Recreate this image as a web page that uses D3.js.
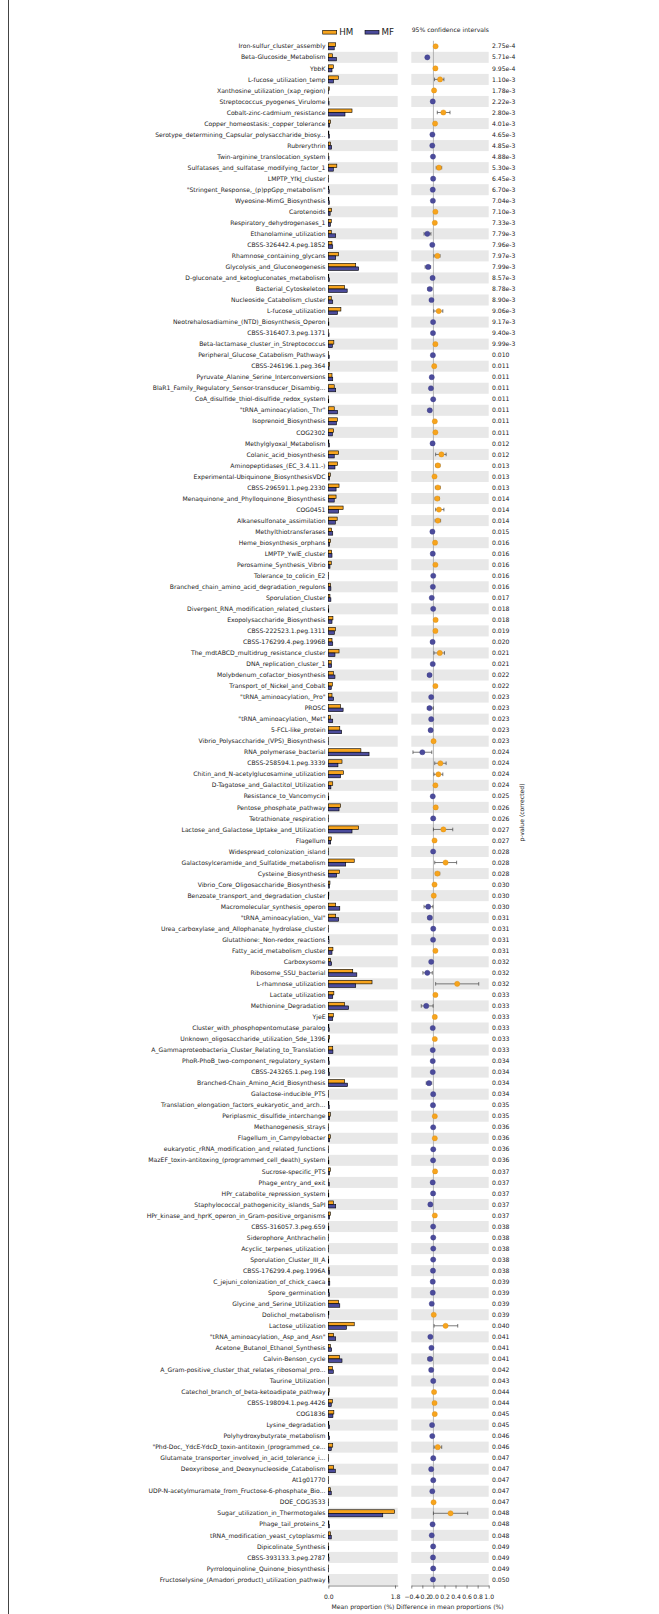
<!DOCTYPE html>
<html><head><meta charset="utf-8">
<script src="https://cdn.jsdelivr.net/npm/d3@7"></script>
<style>body{margin:0;background:#fff}svg{display:block}text{font-family:"DejaVu Sans",sans-serif;fill:#222}</style>
</head><body>
<script>
const categories = ["Iron-sulfur_cluster_assembly","Beta-Glucoside_Metabolism","YbbK","L-fucose_utilization_temp","Xanthosine_utilization_(xap_region)","Streptococcus_pyogenes_Virulome","Cobalt-zinc-cadmium_resistance","Copper_homeostasis:_copper_tolerance","Serotype_determining_Capsular_polysaccharide_biosy...","Rubrerythrin",
"Twin-arginine_translocation_system","Sulfatases_and_sulfatase_modifying_factor_1","LMPTP_YfkJ_cluster","\"Stringent_Response,_(p)ppGpp_metabolism\"","Wyeosine-MimG_Biosynthesis","Carotenoids","Respiratory_dehydrogenases_1","Ethanolamine_utilization","CBSS-326442.4.peg.1852","Rhamnose_containing_glycans",
"Glycolysis_and_Gluconeogenesis","D-gluconate_and_ketogluconates_metabolism","Bacterial_Cytoskeleton","Nucleoside_Catabolism_cluster","L-fucose_utilization","Neotrehalosadiamine_(NTD)_Biosynthesis_Operon","CBSS-316407.3.peg.1371","Beta-lactamase_cluster_in_Streptococcus","Peripheral_Glucose_Catabolism_Pathways","CBSS-246196.1.peg.364",
"Pyruvate_Alanine_Serine_Interconversions","BlaR1_Family_Regulatory_Sensor-transducer_Disambig...","CoA_disulfide_thiol-disulfide_redox_system","\"tRNA_aminoacylation,_Thr\"","Isoprenoid_Biosynthesis","COG2302","Methylglyoxal_Metabolism","Colanic_acid_biosynthesis","Aminopeptidases_(EC_3.4.11.-)","Experimental-Ubiquinone_BiosynthesisVDC",
"CBSS-296591.1.peg.2330","Menaquinone_and_Phylloquinone_Biosynthesis","COG0451","Alkanesulfonate_assimilation","Methylthiotransferases","Heme_biosynthesis_orphans","LMPTP_YwlE_cluster","Perosamine_Synthesis_Vibrio","Tolerance_to_colicin_E2","Branched_chain_amino_acid_degradation_regulons",
"Sporulation_Cluster","Divergent_RNA_modification_related_clusters","Exopolysaccharide_Biosynthesis","CBSS-222523.1.peg.1311","CBSS-176299.4.peg.1996B","The_mdtABCD_multidrug_resistance_cluster","DNA_replication_cluster_1","Molybdenum_cofactor_biosynthesis","Transport_of_Nickel_and_Cobalt","\"tRNA_aminoacylation,_Pro\"",
"PROSC","\"tRNA_aminoacylation,_Met\"","5-FCL-like_protein","Vibrio_Polysaccharide_(VPS)_Biosynthesis","RNA_polymerase_bacterial","CBSS-258594.1.peg.3339","Chitin_and_N-acetylglucosamine_utilization","D-Tagatose_and_Galactitol_Utilization","Resistance_to_Vancomycin","Pentose_phosphate_pathway",
"Tetrathionate_respiration","Lactose_and_Galactose_Uptake_and_Utilization","Flagellum","Widespread_colonization_island","Galactosylceramide_and_Sulfatide_metabolism","Cysteine_Biosynthesis","Vibrio_Core_Oligosaccharide_Biosynthesis","Benzoate_transport_and_degradation_cluster","Macromolecular_synthesis_operon","\"tRNA_aminoacylation,_Val\"",
"Urea_carboxylase_and_Allophanate_hydrolase_cluster","Glutathione:_Non-redox_reactions","Fatty_acid_metabolism_cluster","Carboxysome","Ribosome_SSU_bacterial","L-rhamnose_utilization","Lactate_utilization","Methionine_Degradation","YjeE","Cluster_with_phosphopentomutase_paralog",
"Unknown_oligosaccharide_utilization_Sde_1396","A_Gammaproteobacteria_Cluster_Relating_to_Translation","PhoR-PhoB_two-component_regulatory_system","CBSS-243265.1.peg.198","Branched-Chain_Amino_Acid_Biosynthesis","Galactose-inducible_PTS","Translation_elongation_factors_eukaryotic_and_arch...","Periplasmic_disulfide_interchange","Methanogenesis_strays","Flagellum_in_Campylobacter",
"eukaryotic_rRNA_modification_and_related_functions","MazEF_toxin-antitoxing_(programmed_cell_death)_system","Sucrose-specific_PTS","Phage_entry_and_exit","HPr_catabolite_repression_system","Staphylococcal_pathogenicity_islands_SaPI","HPr_kinase_and_hprK_operon_in_Gram-positive_organisms","CBSS-316057.3.peg.659","Siderophore_Anthrachelin","Acyclic_terpenes_utilization",
"Sporulation_Cluster_III_A","CBSS-176299.4.peg.1996A","C_jejuni_colonization_of_chick_caeca","Spore_germination","Glycine_and_Serine_Utilization","Dolichol_metabolism","Lactose_utilization","\"tRNA_aminoacylation,_Asp_and_Asn\"","Acetone_Butanol_Ethanol_Synthesis","Calvin-Benson_cycle",
"A_Gram-positive_cluster_that_relates_ribosomal_pro...","Taurine_Utilization","Catechol_branch_of_beta-ketoadipate_pathway","CBSS-198094.1.peg.4426","COG1836","Lysine_degradation","Polyhydroxybutyrate_metabolism","\"Phd-Doc,_YdcE-YdcD_toxin-antitoxin_(programmed_ce...","Glutamate_transporter_involved_in_acid_tolerance_i...","Deoxyribose_and_Deoxynucleoside_Catabolism",
"At1g01770","UDP-N-acetylmuramate_from_Fructose-6-phosphate_Bio...","DOE_COG3533","Sugar_utilization_in_Thermotogales","Phage_tail_proteins_2","tRNA_modification_yeast_cytoplasmic","Dipicolinate_Synthesis","CBSS-393133.3.peg.2787","Pyrroloquinoline_Quinone_biosynthesis","Fructoselysine_(Amadori_product)_utilization_pathway"];

const hmValues = [0.20,0.11,0.135,0.27,0.025,0.005,0.64,0.06,0.015,0.06,
0.008,0.23,0.005,0.012,0.015,0.09,0.08,0.08,0.10,0.28,
0.74,0.012,0.44,0.08,0.34,0.008,0.008,0.15,0.01,0.035,
0.10,0.16,0.008,0.16,0.245,0.145,0.015,0.28,0.25,0.055,
0.29,0.21,0.40,0.24,0.09,0.06,0.09,0.08,0.005,0.06,
0.045,0.007,0.125,0.19,0.10,0.29,0.08,0.135,0.11,0.10,
0.33,0.06,0.31,0.006,0.88,0.37,0.41,0.12,0.005,0.33,
0.005,0.82,0.08,0.005,0.70,0.30,0.045,0.015,0.20,0.20,
0.005,0.015,0.125,0.055,0.66,1.18,0.15,0.44,0.135,0.015,
0.035,0.12,0.015,0.015,0.44,0.005,0.015,0.055,0.005,0.055,
0.004,0.008,0.055,0.008,0.008,0.135,0.055,0.008,0.005,0.006,
0.008,0.02,0.025,0.015,0.28,0.015,0.70,0.145,0.055,0.30,
0.11,0.005,0.025,0.11,0.15,0.012,0.012,0.12,0.005,0.145,
0.004,0.055,0.006,1.79,0.015,0.06,0.008,0.012,0.006,0.012];

const mfValues = [0.16,0.22,0.10,0.14,0.01,0.02,0.45,0.035,0.03,0.09,
0.018,0.135,0.01,0.025,0.027,0.05,0.06,0.20,0.12,0.20,
0.82,0.028,0.51,0.12,0.25,0.015,0.02,0.11,0.025,0.02,
0.12,0.20,0.012,0.25,0.22,0.11,0.03,0.16,0.18,0.035,
0.21,0.16,0.28,0.19,0.12,0.035,0.10,0.045,0.008,0.07,
0.07,0.012,0.10,0.165,0.12,0.18,0.09,0.18,0.08,0.145,
0.40,0.12,0.36,0.004,1.10,0.26,0.33,0.07,0.012,0.29,
0.007,0.64,0.065,0.01,0.47,0.225,0.03,0.012,0.31,0.28,
0.008,0.02,0.10,0.09,0.77,0.74,0.12,0.55,0.12,0.025,
0.015,0.125,0.025,0.03,0.52,0.008,0.025,0.035,0.009,0.035,
0.007,0.015,0.035,0.025,0.014,0.20,0.035,0.014,0.007,0.008,
0.012,0.03,0.04,0.03,0.31,0.01,0.49,0.20,0.09,0.37,
0.135,0.007,0.015,0.08,0.125,0.035,0.035,0.08,0.008,0.19,
0.007,0.08,0.003,1.47,0.03,0.08,0.012,0.018,0.008,0.018];

const diffValues = [0.04,-0.11,0.036,0.12,0.012,-0.012,0.18,0.03,-0.018,-0.02,
-0.008,0.10,-0.005,-0.012,-0.01,0.036,0.025,-0.11,-0.02,0.072,
-0.095,-0.015,-0.065,-0.035,0.096,-0.006,-0.008,0.036,-0.01,0.015,
-0.03,-0.045,-0.004,-0.065,0.025,0.036,-0.015,0.145,0.08,0.02,
0.08,0.07,0.10,0.08,-0.018,0.03,-0.012,0.036,-0.003,-0.01,
-0.03,-0.004,0.04,0.036,-0.015,0.115,-0.012,-0.07,0.036,-0.04,
-0.07,-0.04,-0.05,0.003,-0.20,0.126,0.09,0.036,-0.012,0.042,
-0.004,0.18,0.02,-0.005,0.22,0.072,0.02,0.006,-0.095,-0.065,
-0.003,-0.006,0.036,-0.04,-0.11,0.43,0.036,-0.13,0.025,-0.012,
0.025,-0.012,-0.012,-0.012,-0.08,-0.004,-0.008,0.025,-0.004,0.025,
-0.003,-0.006,0.03,-0.013,-0.006,-0.055,0.025,-0.005,-0.003,-0.003,
-0.004,-0.008,-0.012,-0.012,-0.03,0.006,0.22,-0.055,-0.036,-0.06,
-0.04,-0.003,0.012,0.02,0.024,-0.024,-0.02,0.078,-0.003,-0.04,
-0.003,-0.02,0.003,0.31,-0.015,-0.03,-0.005,-0.008,-0.004,-0.008];

const ciLow = [0.025,-0.13,0.025,0.02,0.005,-0.02,0.07,0.015,-0.028,-0.035,
-0.014,0.05,-0.009,-0.02,-0.017,0.02,0.012,-0.17,-0.033,0.01,
-0.15,-0.024,-0.10,-0.05,0.006,-0.01,-0.014,0.02,-0.017,0.006,
-0.045,-0.065,-0.007,-0.095,0.01,0.02,-0.024,0.04,0.04,0.008,
0.035,0.03,0.04,0.03,-0.03,0.015,-0.022,0.02,-0.006,-0.02,
-0.045,-0.007,0.02,0.015,-0.027,0.01,-0.022,-0.10,0.02,-0.055,
-0.11,-0.055,-0.07,0.001,-0.37,0.024,0.01,0.02,-0.02,0.02,
-0.007,0.0,0.008,-0.009,0.024,0.035,0.008,0.002,-0.17,-0.10,
-0.006,-0.01,0.02,-0.055,-0.19,0.04,0.02,-0.22,0.01,-0.02,
0.012,-0.022,-0.02,-0.02,-0.13,-0.007,-0.014,0.012,-0.007,0.01,
-0.006,-0.01,0.015,-0.021,-0.01,-0.075,0.012,-0.009,-0.006,-0.006,
-0.007,-0.014,-0.02,-0.02,-0.045,0.002,0.012,-0.075,-0.05,-0.10,
-0.055,-0.006,0.005,0.008,0.01,-0.035,-0.03,0.012,-0.006,-0.055,
-0.006,-0.032,0.001,0.0,-0.024,-0.045,-0.009,-0.014,-0.007,-0.014];

const ciHigh = [0.055,-0.09,0.047,0.19,0.02,-0.005,0.30,0.045,-0.008,-0.005,
-0.002,0.15,-0.001,-0.004,-0.003,0.052,0.038,-0.045,-0.007,0.12,
-0.05,-0.006,-0.03,-0.02,0.17,-0.002,-0.002,0.052,-0.003,0.024,
-0.015,-0.025,-0.001,-0.035,0.04,0.052,-0.006,0.23,0.12,0.032,
0.125,0.11,0.19,0.13,-0.006,0.045,-0.002,0.052,0.0,0.0,
-0.015,-0.001,0.06,0.055,-0.003,0.20,-0.002,-0.04,0.052,-0.025,
-0.002,-0.025,-0.03,0.005,-0.03,0.23,0.17,0.052,-0.004,0.065,
-0.001,0.35,0.032,-0.001,0.42,0.115,0.032,0.01,-0.01,-0.03,
0.0,-0.002,0.052,-0.025,-0.02,0.82,0.052,-0.006,0.04,-0.004,
0.038,-0.002,-0.004,-0.004,-0.03,-0.001,-0.002,0.038,-0.001,0.04,
0.0,-0.002,0.045,-0.005,-0.002,-0.035,0.038,-0.001,0.0,0.0,
-0.001,-0.002,-0.004,-0.004,-0.015,0.01,0.44,-0.035,-0.022,-0.02,
-0.025,0.0,0.019,0.032,0.038,-0.013,-0.01,0.15,0.0,-0.025,
0.0,-0.008,0.005,0.62,-0.006,-0.015,-0.001,-0.002,-0.001,-0.002];

const pValues = ["2.75e-4","5.71e-4","9.95e-4","1.10e-3","1.78e-3","2.22e-3","2.80e-3","4.01e-3","4.65e-3","4.85e-3",
"4.88e-3","5.30e-3","6.45e-3","6.70e-3","7.04e-3","7.10e-3","7.33e-3","7.79e-3","7.96e-3","7.97e-3",
"7.99e-3","8.57e-3","8.78e-3","8.90e-3","9.06e-3","9.17e-3","9.40e-3","9.99e-3","0.010","0.011",
"0.011","0.011","0.011","0.011","0.011","0.011","0.012","0.012","0.013","0.013",
"0.013","0.014","0.014","0.014","0.015","0.016","0.016","0.016","0.016","0.016",
"0.017","0.018","0.018","0.019","0.020","0.021","0.021","0.022","0.022","0.023",
"0.023","0.023","0.023","0.023","0.024","0.024","0.024","0.024","0.025","0.026",
"0.026","0.027","0.027","0.028","0.028","0.028","0.030","0.030","0.030","0.031",
"0.031","0.031","0.031","0.032","0.032","0.032","0.033","0.033","0.033","0.033",
"0.033","0.033","0.034","0.034","0.034","0.034","0.035","0.035","0.036","0.036",
"0.036","0.036","0.037","0.037","0.037","0.037","0.037","0.038","0.038","0.038",
"0.038","0.038","0.039","0.039","0.039","0.039","0.040","0.041","0.041","0.041",
"0.042","0.043","0.044","0.044","0.045","0.045","0.046","0.046","0.047","0.047",
"0.047","0.047","0.047","0.048","0.048","0.048","0.049","0.049","0.049","0.050"];

const groups = ["HM","MF"];
const leftTicks = [0, 1.8];
const rightTicks = [-0.4,-0.2,0.0,0.2,0.4,0.6,0.8,1.0];

const W = 659, H = 1614;
const ORANGE = "#F7A41D", NAVY = "#4B4B9B";
const FS = 6.1;

const svg = d3.select("body").append("svg").attr("width", W).attr("height", H);

// page frame line on the left
svg.append("line").attr("x1", 8.5).attr("x2", 8.5).attr("y1", 0).attr("y2", H).attr("stroke", "#444").attr("stroke-width", 1);

const data = categories.map((c,i)=>({c, hm:hmValues[i], mf:mfValues[i], d:diffValues[i], lo:ciLow[i], hi:ciHigh[i], p:pValues[i], i}));

const y = d3.scaleBand().domain(categories).range([40.8, 1585.0]).padding(0);
const xL = d3.scaleLinear().domain([0, 1.873]).range([328.3, 397.7]);
const xR = d3.scaleLinear().domain([-0.4, 1.0]).range([411.3, 488.7]);
const bw = y.bandwidth();

// shaded bands
const bands = svg.append("g");
data.filter(d=>d.i%2===1).forEach(d=>{
  bands.append("rect").attr("x", xL.range()[0]).attr("y", y(d.c)).attr("width", xL.range()[1]-xL.range()[0]).attr("height", bw).attr("fill","#e8e8e8");
  bands.append("rect").attr("x", xR.range()[0]).attr("y", y(d.c)).attr("width", xR.range()[1]-xR.range()[0]).attr("height", bw).attr("fill","#e8e8e8");
});

// labels
svg.append("g").selectAll("text").data(data).join("text")
  .attr("x", 325.5).attr("y", d=>y(d.c)+bw/2).attr("dy","0.35em")
  .attr("text-anchor","end").attr("font-size",FS).text(d=>d.c);

// bars
const bh = bw*0.32;
const gb = svg.append("g");
gb.selectAll("rect.hm").data(data).join("rect").attr("class","hm")
  .attr("x", xL(0)).attr("y", d=>y(d.c)+bw/2-bh).attr("width", d=>Math.max(0.3, xL(d.hm)-xL(0))).attr("height", bh)
  .attr("fill", ORANGE).attr("stroke","#000").attr("stroke-width",0.6);
gb.selectAll("rect.mf").data(data).join("rect").attr("class","mf")
  .attr("x", xL(0)).attr("y", d=>y(d.c)+bw/2).attr("width", d=>Math.max(0.3, xL(d.mf)-xL(0))).attr("height", bh)
  .attr("fill", NAVY).attr("stroke","#000").attr("stroke-width",0.6);

// zero line
svg.append("line").attr("x1", xR(0)).attr("x2", xR(0)).attr("y1", y.range()[0]).attr("y2", y.range()[1])
  .attr("stroke","#999").attr("stroke-width",0.7);

// error bars
const ge = svg.append("g").attr("stroke","#444").attr("stroke-width",0.7);
data.forEach(d=>{
  const cy = y(d.c)+bw/2;
  ge.append("line").attr("x1", xR(d.lo)).attr("x2", xR(d.hi)).attr("y1", cy).attr("y2", cy);
  ge.append("line").attr("x1", xR(d.lo)).attr("x2", xR(d.lo)).attr("y1", cy-1.8).attr("y2", cy+1.8);
  ge.append("line").attr("x1", xR(d.hi)).attr("x2", xR(d.hi)).attr("y1", cy-1.8).attr("y2", cy+1.8);
});

// dots
svg.append("g").selectAll("circle").data(data).join("circle")
  .attr("cx", d=>xR(d.d)).attr("cy", d=>y(d.c)+bw/2).attr("r", 2.6)
  .attr("fill", d=>d.d>=0?ORANGE:NAVY).attr("stroke", d=>d.d>=0?"#d88a10":"#3a3a85").attr("stroke-width",0.4);

// p-values
svg.append("g").selectAll("text").data(data).join("text")
  .attr("x", 492).attr("y", d=>y(d.c)+bw/2).attr("dy","0.35em")
  .attr("font-size",FS).text(d=>d.p);

// axes
const axY = 1585.5;
const axL = svg.append("g").attr("transform",`translate(0,${axY})`)
  .call(d3.axisBottom(xL).tickValues(leftTicks).tickFormat(d3.format(".1f")).tickSize(3).tickPadding(6).tickSizeOuter(0));
const axR = svg.append("g").attr("transform",`translate(0,${axY})`)
  .call(d3.axisBottom(xR).tickValues(rightTicks).tickFormat(d3.format(".1f")).tickSize(3).tickPadding(6).tickSizeOuter(0));
[axL, axR].forEach(a=>{
  a.selectAll("text").attr("font-size",FS).attr("font-family","DejaVu Sans").attr("fill","#222");
  a.selectAll("line, path").attr("stroke","#333").attr("stroke-width",0.6);
});

svg.append("text").attr("x", 363).attr("y", 1608.5).attr("text-anchor","middle").attr("font-size",FS).text("Mean proportion (%)");
svg.append("text").attr("x", 450).attr("y", 1608.5).attr("text-anchor","middle").attr("font-size",FS).text("Difference in mean proportions (%)");

// p-value axis title
svg.append("text").attr("transform","translate(523.5,812.5) rotate(-90)").attr("text-anchor","middle")
  .attr("font-size",FS).text("p-value (corrected)");

// legend
const lg = svg.append("g");
const legX = [322.7, 365.0];
groups.forEach((g,k)=>{
  lg.append("rect").attr("x", legX[k]).attr("y", 30.3).attr("width", 14).attr("height", 3.8)
    .attr("fill", k===0?ORANGE:NAVY).attr("stroke","#000").attr("stroke-width",0.6);
  lg.append("text").attr("x", legX[k]+16.5).attr("y", 32.3).attr("dy","0.35em").attr("font-size",8.7).text(g);
});
svg.append("text").attr("x", 411.7).attr("y", 29.7).attr("dy","0.35em").attr("font-size",FS).text("95% confidence intervals");
</script>
</body></html>
